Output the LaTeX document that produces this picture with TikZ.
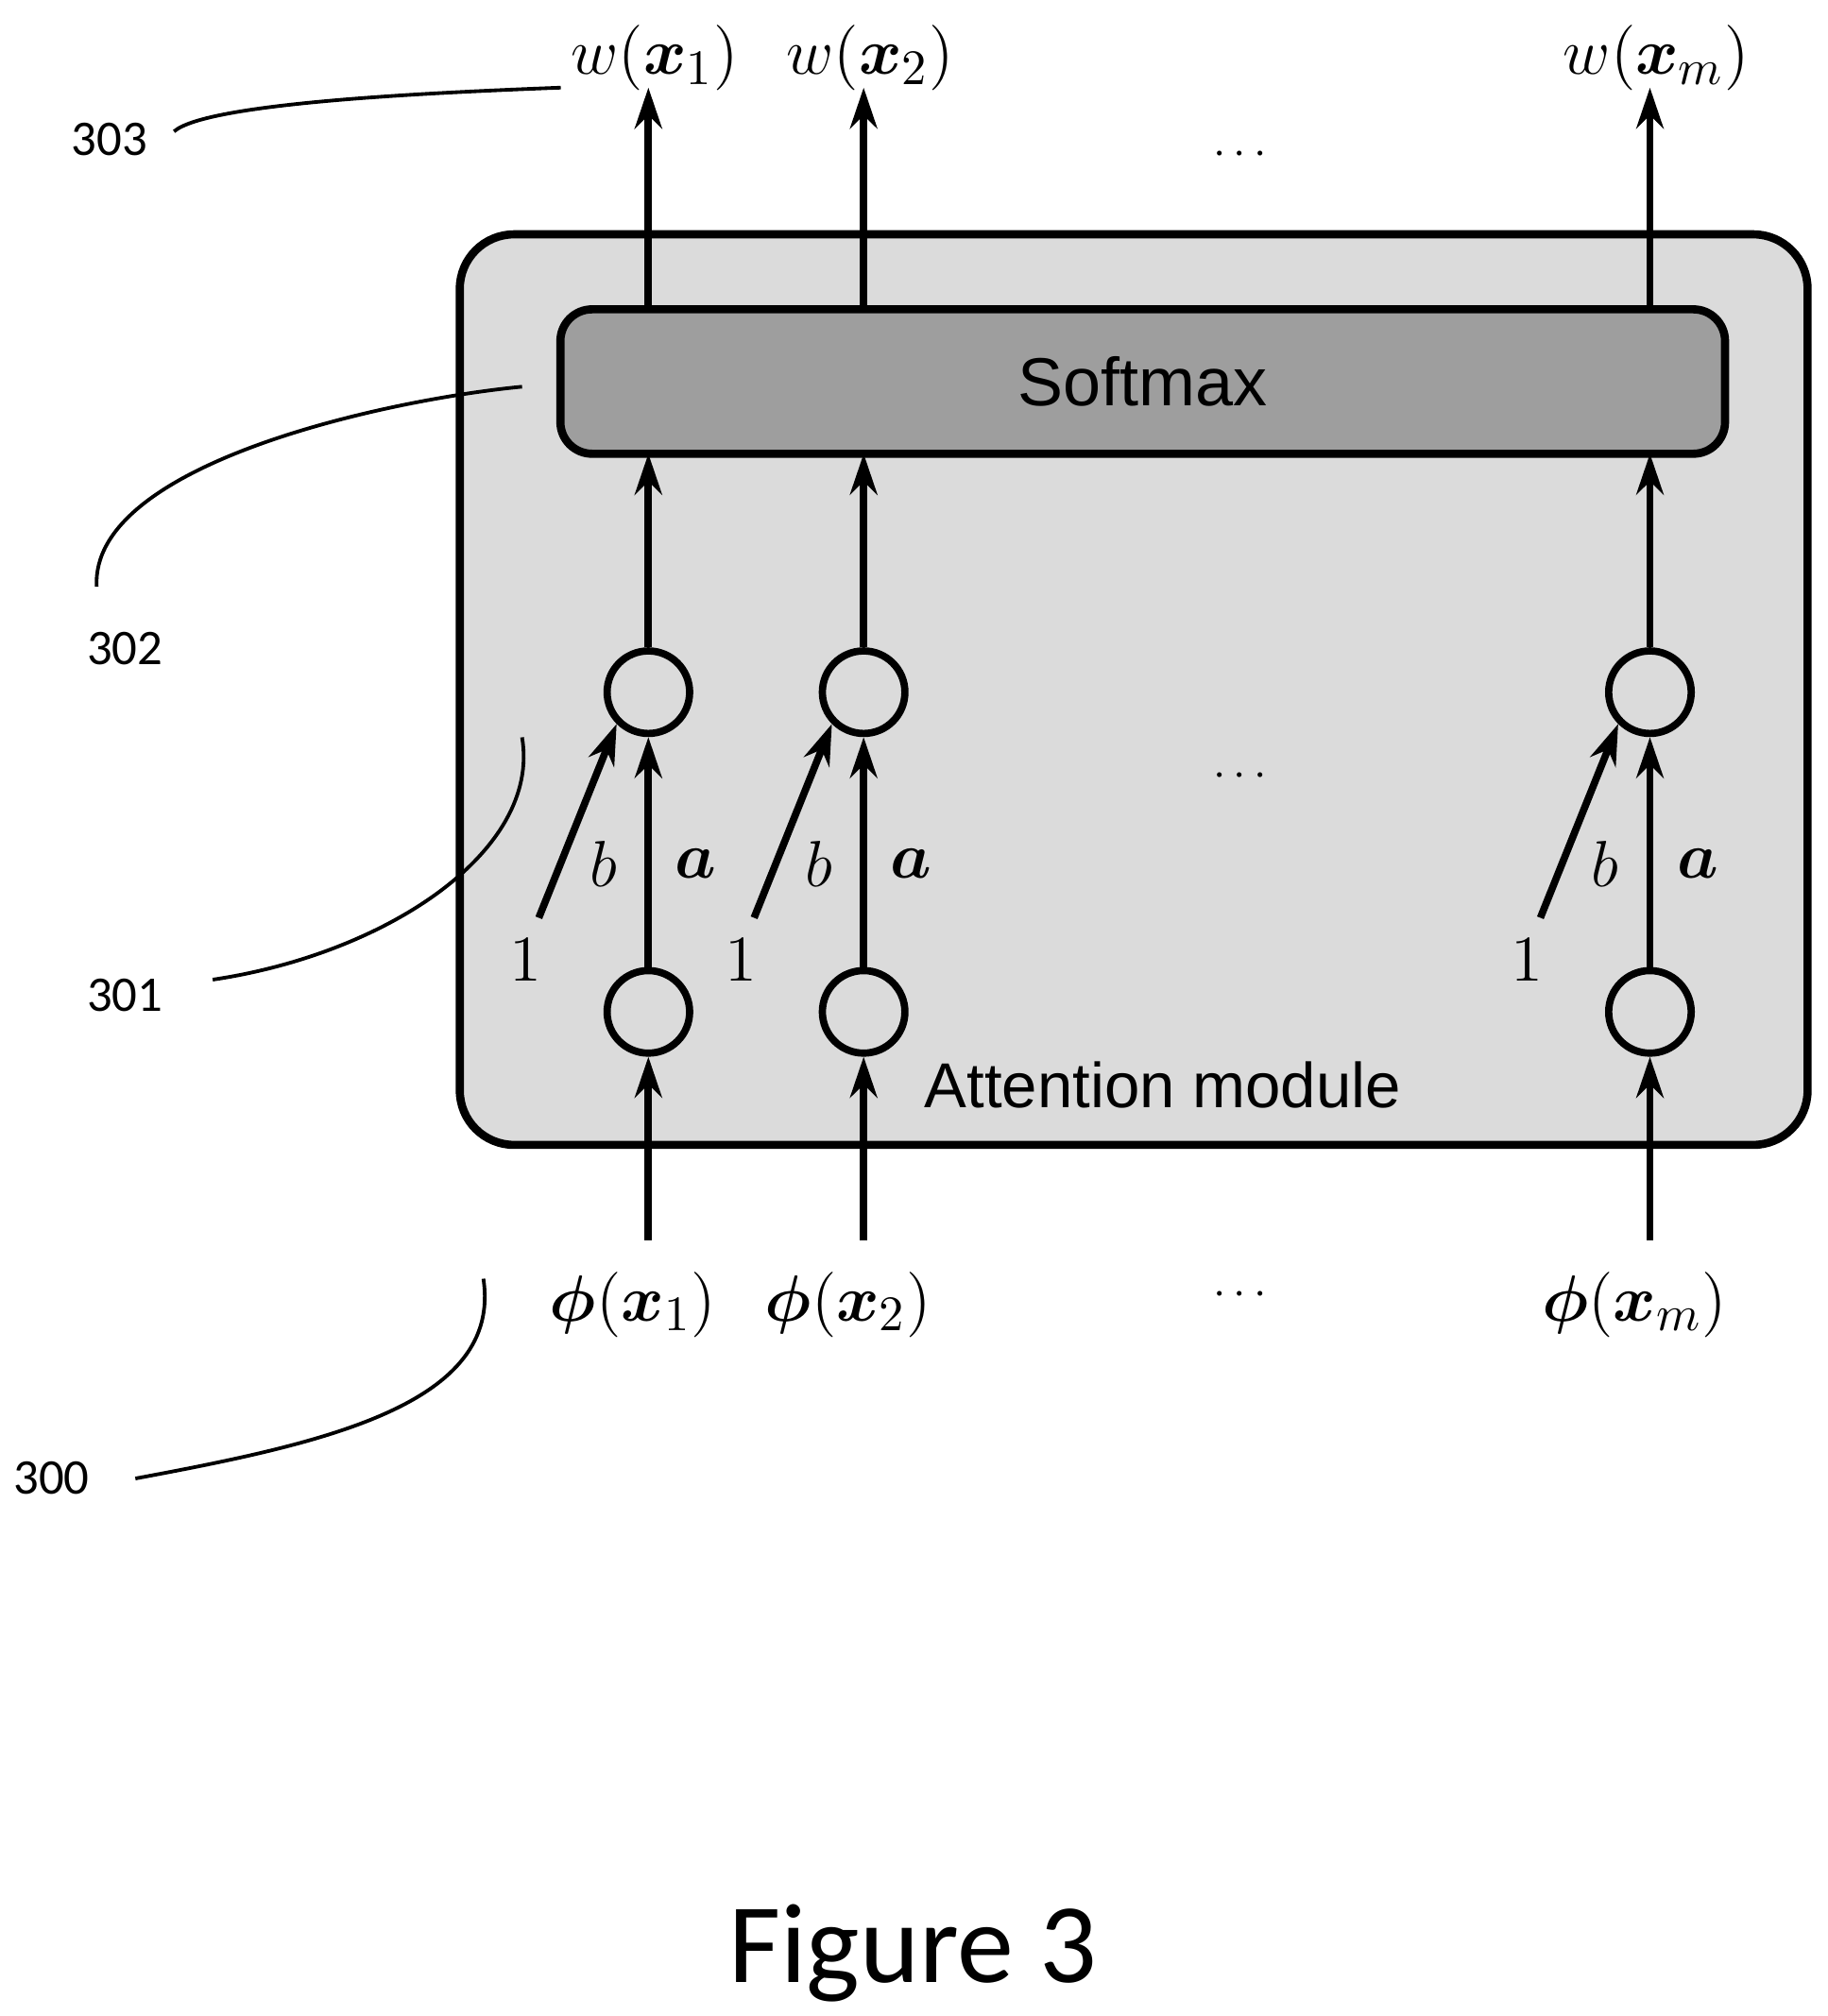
\documentclass[tikz,border=0pt]{standalone}
\usepackage{fontspec}
\usepackage{amsmath}
\setsansfont{Liberation Sans}
\newfontfamily\calfont{Carlito}
\usetikzlibrary{arrows.meta}
\begin{document}
\begin{tikzpicture}[x=0.01cm,y=-0.01cm,
  arr/.style={-{Stealth[length=9pt,width=6pt]},line width=1.6pt},
  neuron/.style={draw,line width=1.6pt,circle,minimum size=0.64cm,inner sep=0pt},
  callout/.style={line width=0.8pt},
  num/.style={font=\calfont\fontsize{11}{13}\selectfont},
  mlab/.style={font=\fontsize{15}{18}\selectfont},
  dots/.style={font=\fontsize{10}{12}\selectfont}]
\useasboundingbox (0,0) rectangle (1418,1564);
\node[draw,line width=1.8pt,rounded corners=12pt,fill=black!14,minimum width=10.45cm,minimum height=7.06cm] (outer) at (879.5,535) {};
\node[draw,line width=1.8pt,rounded corners=7pt,fill=black!38,minimum width=9.03cm,minimum height=1.12cm,font=\sffamily\fontsize{15}{18}\selectfont] (soft) at (886.5,296) {Softmax};
\node[font=\sffamily\fontsize{14}{17}\selectfont] (att) at (902,842) {Attention module};
\foreach \i/\x/\s in {1/503/1,2/670/2,3/1280/m}{
  \node[neuron] (u\i) at (\x,537) {};
  \node[neuron] (l\i) at (\x,785) {};
  \coordinate (in\i) at (\x,962);
  \coordinate (out\i) at (\x,68);
  \coordinate (st\i) at (\x,352);
  \coordinate (sb\i) at (\x,240);
  \coordinate (one\i) at (\x-85,712);
  \draw[arr] (in\i) -- (l\i);
  \draw[arr] (l\i) -- (u\i);
  \draw[arr] (u\i) -- (st\i);
  \draw[arr] (sb\i) -- (out\i);
  \draw[arr] (one\i) -- (u\i.south west);
  \node[mlab] (one\i t) at (\x-95,745) {$1$};
  \node[mlab] (b\i) at (\x-35,670) {$b$};
  \node[mlab] (a\i) at (\x+37,670) {$\boldsymbol{a}$};
  \node[mlab] (w\i) at (\x+5,45) {$w(\boldsymbol{x}_{\s})$};
  \node[mlab] (p\i) at (\x-12,1012) {$\boldsymbol{\phi}(\boldsymbol{x}_{\s})$};
}
\node[dots] (d1) at (965,120) {$\cdots$};
\node[dots] (d2) at (965,602) {$\cdots$};
\node[dots] (d3) at (965,1005) {$\cdots$};
\node[num] (n303) at (85,108) {303};
\node[num] (n302) at (97,503) {302};
\node[num] (n301) at (97,772) {301};
\node[num] (n300) at (40,1147) {300};
\coordinate (c303) at (435,68);
\coordinate (c302) at (405,300);
\coordinate (c301) at (405,572);
\coordinate (c300) at (375,992);
\draw[callout] (135,102) .. controls (160,80) and (330,72) .. (c303);
\draw[callout] (75,455) .. controls (70,360) and (300,310) .. (c302);
\draw[callout] (165,760) .. controls (300,740) and (420,660) .. (c301);
\draw[callout] (105,1147) .. controls (250,1120) and (390,1090) .. (c300);
\node[font=\calfont\fontsize{25}{30}\selectfont] (fig) at (708,1515) {Figure 3};
\end{tikzpicture}
\end{document}
